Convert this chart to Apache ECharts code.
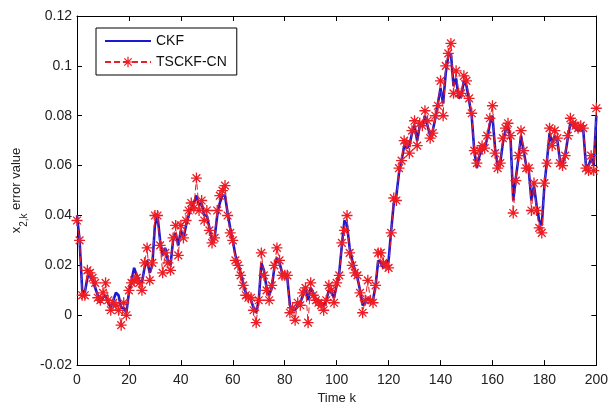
<!DOCTYPE html>
<html>
<head>
<meta charset="utf-8">
<script src="https://cdn.jsdelivr.net/npm/echarts@6/dist/echarts.min.js"></script>
<style>html,body{margin:0;padding:0;background:#fff}#c{width:611px;height:410px}</style>
</head>
<body>
<div id="c"></div>
<script>
const seriesNames = ['CKF', 'TSCKF-CN'];
const xTicks = [0, 20, 40, 60, 80, 100, 120, 140, 160, 180, 200];
const yTicks = [-0.02, 0, 0.02, 0.04, 0.06, 0.08, 0.1, 0.12];

const ckf = [
0.040,0.030,0.010,0.009,0.015,0.016,0.014,0.011,0.008,0.005,
0.007,0.008,0.005,0.003,0.006,0.009,0.008,0.003,0.003,0.001,
0.009,0.014,0.019,0.016,0.014,0.013,0.019,0.022,0.017,0.020,
0.036,0.040,0.030,0.024,0.027,0.022,0.020,0.030,0.033,0.028,
0.034,0.031,0.036,0.040,0.043,0.045,0.048,0.044,0.045,0.040,
0.040,0.035,0.030,0.031,0.040,0.045,0.048,0.048,0.041,0.035,
0.030,0.024,0.021,0.017,0.013,0.009,0.008,0.006,0.003,0.001,
0.006,0.021,0.018,0.011,0.008,0.011,0.019,0.023,0.021,0.017,
0.016,0.015,0.004,0.002,0.002,0.004,0.005,0.008,0.011,0.006,
0.011,0.009,0.006,0.006,0.005,0.004,0.006,0.010,0.009,0.007,
0.012,0.017,0.028,0.038,0.036,0.027,0.022,0.018,0.015,0.010,
0.004,0.005,0.007,0.006,0.006,0.012,0.022,0.021,0.019,0.021,
0.022,0.034,0.045,0.048,0.057,0.062,0.068,0.067,0.068,0.073,
0.076,0.070,0.076,0.076,0.080,0.076,0.072,0.074,0.079,0.085,
0.091,0.085,0.097,0.104,0.105,0.092,0.095,0.087,0.088,0.094,
0.092,0.086,0.080,0.066,0.059,0.064,0.066,0.067,0.071,0.077,
0.080,0.067,0.060,0.061,0.069,0.074,0.076,0.070,0.046,0.055,
0.063,0.072,0.066,0.060,0.058,0.046,0.052,0.044,0.038,0.036,
0.052,0.062,0.073,0.069,0.072,0.070,0.062,0.061,0.064,0.071,
0.077,0.076,0.075,0.074,0.075,0.074,0.060,0.060,0.063,0.060,
0.080];

const tsckf = [
0.038,0.030,0.008,0.008,0.018,0.017,0.015,0.013,0.007,0.006,
0.009,0.013,0.006,0.002,0.005,0.004,0.002,-0.004,0.005,0.000,
0.010,0.013,0.014,0.015,0.013,0.010,0.021,0.027,0.014,0.021,
0.040,0.040,0.028,0.017,0.025,0.021,0.018,0.031,0.036,0.024,
0.036,0.031,0.038,0.042,0.045,0.043,0.055,0.042,0.046,0.038,
0.042,0.034,0.029,0.031,0.042,0.048,0.050,0.052,0.040,0.033,
0.030,0.022,0.020,0.016,0.012,0.008,0.007,0.007,0.002,-0.003,
0.006,0.025,0.016,0.010,0.006,0.012,0.020,0.027,0.022,0.016,
0.016,0.016,0.001,0.003,-0.002,0.005,0.004,0.009,0.011,-0.003,
0.013,0.008,0.006,0.005,0.004,0.002,0.006,0.012,0.010,0.005,
0.013,0.016,0.029,0.034,0.040,0.025,0.020,0.017,0.016,0.009,
0.001,0.006,0.014,0.006,0.005,0.012,0.025,0.025,0.021,0.020,
0.019,0.033,0.047,0.046,0.059,0.062,0.070,0.069,0.065,0.074,
0.078,0.068,0.077,0.076,0.082,0.078,0.071,0.073,0.080,0.084,
0.094,0.080,0.100,0.105,0.109,0.089,0.098,0.089,0.089,0.096,
0.094,0.087,0.081,0.066,0.061,0.066,0.068,0.067,0.072,0.079,
0.084,0.065,0.059,0.061,0.071,0.075,0.077,0.072,0.041,0.054,
0.064,0.074,0.066,0.059,0.059,0.042,0.053,0.042,0.035,0.033,
0.053,0.061,0.075,0.068,0.074,0.071,0.061,0.060,0.064,0.072,
0.079,0.077,0.076,0.075,0.076,0.075,0.059,0.058,0.064,0.058,
0.083];

const starPath = 'path://M-1.2,-10L1.2,-10L1.2,10L-1.2,10Z M-10,-1.2L10,-1.2L10,1.2L-10,1.2Z ' +
  'M-6.2,-7.9L7.9,6.2L6.2,7.9L-7.9,-6.2Z M6.2,-7.9L7.9,-6.2L-6.2,7.9L-7.9,6.2Z';

const chart = echarts.init(document.getElementById('c'), null, {renderer: 'canvas'});
const font = 'Liberation Sans, Arial, sans-serif';
const fmtY = v => String(+v.toFixed(2));
const base = {
  type: 'value',
  axisLine: {show: true, onZero: false, lineStyle: {color: '#000', width: 1}},
  axisTick: {show: true, inside: true, length: 5, lineStyle: {color: '#000'}},
  splitLine: {show: false}
};
chart.setOption({
  animation: false,
  backgroundColor: '#fff',
  textStyle: {fontFamily: font},
  grid: {left: 77, right: 13, top: 16, bottom: 40},
  legend: {
    orient: 'vertical', left: 96, top: 28,
    backgroundColor: '#fff', borderColor: '#000', borderWidth: 1,
    padding: [6, 10, 6, 8], itemGap: 7, itemWidth: 46, itemHeight: 13,
    textStyle: {fontFamily: font, fontSize: 14, color: '#111'},
    data: [
      {name: seriesNames[0], itemStyle: {opacity: 0}},
      {name: seriesNames[1]}
    ]
  },
  xAxis: [
    Object.assign({}, base, {min: 0, max: 200, interval: 20, position: 'bottom',
      name: 'Time k', nameLocation: 'middle', nameGap: 21,
      nameTextStyle: {fontFamily: font, fontSize: 13, color: '#222'},
      axisLabel: {fontFamily: font, fontSize: 14, color: '#222', margin: 8,
        formatter: v => xTicks.includes(v) ? String(v) : ''}}),
    Object.assign({}, base, {min: 0, max: 200, interval: 20, position: 'top',
      axisLabel: {show: false}})
  ],
  yAxis: [
    Object.assign({}, base, {min: -0.02, max: 0.12, interval: 0.02, position: 'left',
      name: '{x|x}{s|2,k}{n| error value}', nameLocation: 'middle', nameGap: 52,
      nameRotate: 90,
      nameTextStyle: {fontFamily: font, fontSize: 13, color: '#222',
        rich: {
          x: {fontFamily: font, fontSize: 13, color: '#222'},
          s: {fontFamily: font, fontSize: 10, color: '#222', verticalAlign: 'bottom', padding: [0, 0, -6, 0]},
          n: {fontFamily: font, fontSize: 13, color: '#222'}
        }},
      axisLabel: {fontFamily: font, fontSize: 14, color: '#222', margin: 5,
        formatter: v => fmtY(v)}}),
    Object.assign({}, base, {min: -0.02, max: 0.12, interval: 0.02, position: 'right',
      axisLabel: {show: false}})
  ],
  series: [
    {
      name: seriesNames[0], type: 'line', xAxisIndex: 0, yAxisIndex: 0,
      data: ckf.map((v, i) => [i, v]),
      symbol: 'none', color: '#1a1ad0',
      lineStyle: {color: '#1a1ad0', width: 2.6}, z: 2
    },
    {
      name: seriesNames[1], type: 'line', xAxisIndex: 0, yAxisIndex: 0,
      data: tsckf.map((v, i) => [i, v]),
      symbol: starPath, symbolSize: 11, showSymbol: true, showAllSymbol: true,
      color: '#ee1c24',
      itemStyle: {color: '#ee1c24'},
      lineStyle: {color: '#e8202a', width: 1, type: [6, 3]}, z: 3
    }
  ]
});
</script>
</body>
</html>
